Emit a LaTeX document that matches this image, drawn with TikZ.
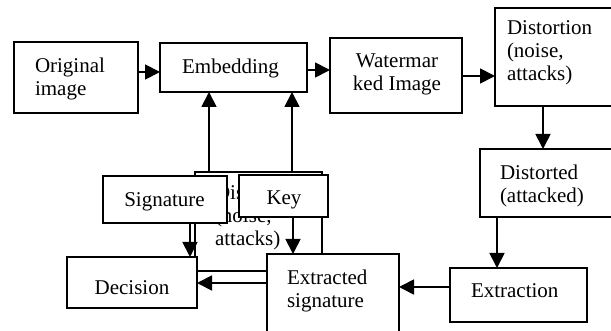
\documentclass[tikz,border=0pt]{standalone}
\usepackage{fontspec}
\setmainfont{Liberation Serif}
\usetikzlibrary{arrows.meta}

\newcommand\boxfont{\fontsize{21}{23}\selectfont}
\newcommand\leftlines[1]{\begin{tabular}[t]{@{}l@{}}#1\end{tabular}}
\newcommand\midlines[1]{\begin{tabular}[t]{@{}c@{}}#1\end{tabular}}

\tikzset{
  box/.style={draw=black, fill=white, line width=1.8pt, inner sep=0pt, outer sep=0pt},
  txt/.style={inner sep=0pt, outer sep=0pt, font=\boxfont},
  ltxt/.style={txt, anchor=base west},
  ctxt/.style={txt, anchor=base},
  arr/.style={line width=1.8pt, -{Triangle[length=15pt,width=15pt]}},
}

\begin{document}
\begin{tikzpicture}[x=1pt, y=-1pt]
\useasboundingbox (0,0) rectangle (611,331);
\clip (0,0) rectangle (611,331);

% stray copy of the distortion block, lying underneath the key/signature area
\node[box, minimum width=127pt, minimum height=99pt] (distcopy) at (258.5,221.5) {};
\node[ltxt] (distcopytext) at (215,200) {\leftlines{Distortion\\(noise,\\attacks)}};

% main blocks
\node[box, minimum width=124pt, minimum height=71pt] (orig)  at (76,77.5) {};
\node[box, minimum width=147pt, minimum height=49pt] (emb)   at (233.5,67.5) {};
\node[box, minimum width=132pt, minimum height=75pt] (wm)    at (396,75.5) {};
\node[box, minimum width=130pt, minimum height=98pt] (dist)  at (560,57) {};
\node[box, minimum width=145pt, minimum height=68pt] (dstd)  at (552.5,183) {};
\node[box, minimum width=137pt, minimum height=54pt] (extn)  at (518.5,295) {};
\node[box, minimum width=132pt, minimum height=91pt] (exsig) at (333,299.5) {};
\node[box, minimum width=89pt,  minimum height=42pt] (key)   at (283.5,196) {};
\node[box, minimum width=124pt, minimum height=47pt] (sig)   at (165,199.5) {};
\node[box, minimum width=130pt, minimum height=51pt] (dec)   at (132,282.5) {};

% labels
\node[ltxt] (origtext)  at (35,73)    {\leftlines{Original\\image}};
\node[ctxt] (embtext)   at (230.5,74) {Embedding};
\node[ctxt] (wmtext)    at (397,68)   {\midlines{Watermar\\ked Image}};
\node[ltxt] (disttext)  at (507,35)   {\leftlines{Distortion\\(noise,\\attacks)}};
\node[ltxt] (dstdtext)  at (500,180)  {\leftlines{Distorted\\(attacked)}};
\node[ltxt] (extntext)  at (471,298)  {Extraction};
\node[ltxt] (exsigtext) at (287,285)  {\leftlines{Extracted\\signature}};
\node[ctxt] (keytext)   at (284,205)  {Key};
\node[ctxt] (sigtext)   at (164.5,207){Signature};
\node[ctxt] (dectext)   at (132,295)  {Decision};

% connectors
\draw[arr] (distcopy.north -| 209,0) -- (emb.south -| 209,0);
\draw[arr] (distcopy.north -| 292,0) -- (emb.south -| 292,0);
\draw[arr] (orig.east |- 0,72) -- (emb.west |- 0,72);
\draw[arr] (emb.east |- 0,70) -- (wm.west |- 0,70);
\draw[arr] (wm.east |- 0,76) -- (dist.west |- 0,76);
\draw[arr] (dist.south -| 543,0) -- (dstd.north -| 543,0);
\draw[arr] (dstd.south -| 497,0) -- (extn.north -| 497,0);
\draw[arr] (extn.west |- 0,287) -- (exsig.east |- 0,287);
\draw[arr] (key.south -| 293,0) -- (exsig.north -| 293,0);
\draw[arr] (sig.south -| 190,0) -- (dec.north -| 190,0);
\draw[arr] (exsig.west |- 0,283) -- (dec.east |- 0,283);
\end{tikzpicture}
\end{document}
